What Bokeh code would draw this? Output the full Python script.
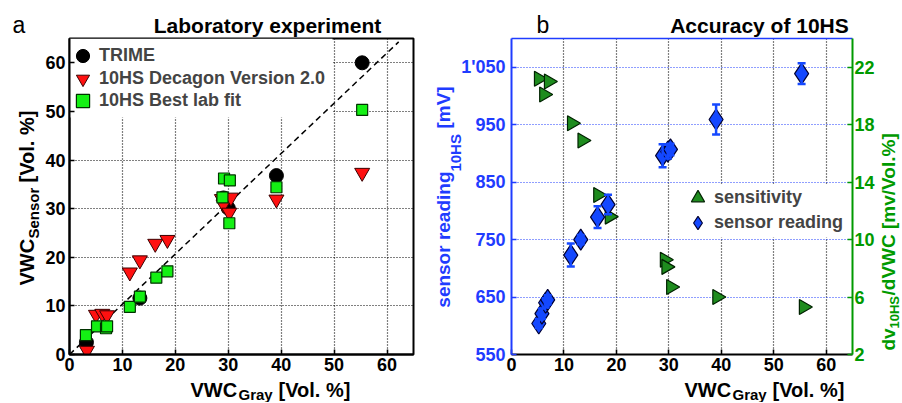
from math import pi
from bokeh.plotting import figure
from bokeh.layouts import row, column
from bokeh.models import (Range1d, LinearAxis, FixedTicker, Label, Legend, LegendItem,
                          ColumnDataSource, Whisker, TeeHead, BoxAnnotation)
from bokeh.embed import file_html
from bokeh.resources import INLINE

FONT = "Liberation Sans"

# ---------------- data: panel a (laboratory experiment) ----------------
trime_grav = [3.2, 13.3, 29.1, 30.0, 39.1, 55.3]
trime_vwc = [2.5, 11.6, 32.2, 30.1, 36.8, 60.0]

dec_grav = [3.3, 5.0, 6.2, 7.1, 11.4, 13.3, 16.2, 18.5, 28.8, 29.1, 30.2, 30.5, 39.1, 55.3]
dec_vwc = [0.8, 8.2, 8.4, 8.1, 16.9, 19.4, 22.8, 23.6, 32.0, 30.9, 29.2, 32.3, 31.9, 37.4]

fit_grav = [3.1, 5.2, 6.9, 7.1, 11.4, 13.3, 16.4, 18.5, 28.9, 29.2, 30.3, 30.2, 39.1, 55.3]
fit_vwc = [4.0, 5.8, 5.4, 5.8, 9.8, 11.9, 15.8, 17.1, 32.3, 36.2, 35.8, 27.0, 34.4, 50.3]

line_x = [0.0, 62.2]
line_y = [0.0, 64.3]

# ---------------- data: panel b (accuracy of 10HS) ----------------
read_grav = [5.2, 5.8, 6.5, 6.9, 11.3, 13.2, 16.4, 18.4, 28.8, 29.8, 30.3, 39.0, 55.3]
read_mv = [604, 621, 640, 645, 723, 750, 789, 811, 896, 903, 907, 959, 1039]
read_err = [8, 9, 8, 8, 20, 8, 19, 17, 20, 12, 10, 26, 18]

sens_grav = [5.2, 6.2, 7.1, 11.5, 13.5, 16.5, 18.7, 29.2, 29.5, 30.4, 39.2, 55.7]
sens_val = [21.2, 20.1, 21.0, 18.1, 16.9, 13.1, 11.6, 8.6, 8.1, 6.7, 6.0, 5.3]

x_ticks = [0, 10, 20, 30, 40, 50, 60]
a_y_ticks = [0, 10, 20, 30, 40, 50, 60]
b_y_ticks = [550, 650, 750, 850, 950, 1050]
b_y_labels = {550: "550", 650: "650", 750: "750", 850: "850", 950: "950", 1050: "1'050"}
b_y2_ticks = [2, 6, 10, 14, 18, 22]

BLUE = "#1f3cff"
DIAMOND = "#1448ff"
GREEN_TXT = "#009a00"
GREEN_TRI = "#1e8c1e"
H = 402


def lab(p, text, x, y, size, color="black", style="bold", angle=0, align="left"):
    p.add_layout(Label(x=x, y=y, x_units="screen", y_units="screen", text=text,
                       text_font=FONT, text_font_size=f"{size}px", text_font_style=style,
                       text_color=color, angle=angle, text_align=align,
                       text_baseline="middle"))


def label_fig(w, h):
    f = figure(width=w, height=h, x_range=Range1d(0, 1), y_range=Range1d(0, 1),
               x_axis_type=None, y_axis_type=None, output_backend="svg",
               toolbar_location=None, min_border=0)
    f.min_border_left = 0
    f.min_border_right = 0
    f.min_border_top = 0
    f.min_border_bottom = 0
    f.outline_line_color = None
    f.background_fill_color = "white"
    f.border_fill_color = "white"
    return f


def style_axis(ax, color="black", size=18):
    ax.axis_line_color = color
    ax.axis_line_width = 2
    ax.major_tick_line_color = color
    ax.major_tick_line_width = 1.5
    ax.major_tick_in = 5
    ax.major_tick_out = 0
    ax.minor_tick_line_color = None
    ax.major_label_text_font = FONT
    ax.major_label_text_font_size = f"{size}px"
    ax.major_label_text_font_style = "bold"
    ax.major_label_text_color = color


def text_axis(ticks, labels, size, color, standoff):
    ax = LinearAxis(ticker=FixedTicker(ticks=ticks),
                    major_label_overrides=dict(zip(ticks, labels)))
    ax.axis_line_color = None
    ax.major_tick_line_color = None
    ax.minor_tick_line_color = None
    ax.major_tick_in = 0
    ax.major_tick_out = 0
    ax.major_label_standoff = standoff
    ax.major_label_orientation = "parallel"
    ax.major_label_text_font = FONT
    ax.major_label_text_font_size = f"{size}px"
    ax.major_label_text_font_style = "bold"
    ax.major_label_text_color = color
    return ax


def one_legend(p, label, renderer, x, y):
    lg = Legend(items=[LegendItem(label=label, renderers=[renderer])], location=(x, y))
    lg.margin = 0
    lg.padding = 0
    lg.spacing = 0
    lg.glyph_width = 33
    lg.glyph_height = 33
    lg.label_height = 18
    lg.label_standoff = 0
    lg.label_text_font = FONT
    lg.label_text_font_size = "18px"
    lg.label_text_font_style = "bold"
    lg.border_line_color = None
    lg.background_fill_alpha = 0
    p.add_layout(lg, "center")


def legend_box(p, left, right, bottom, top):
    box = BoxAnnotation(left=left, right=right, bottom=bottom, top=top,
                        left_units="screen", right_units="screen",
                        bottom_units="screen", top_units="screen",
                        fill_color="white", fill_alpha=1, line_color=None, level="underlay")
    p.add_layout(box)


# ================= panel a =================
pa = figure(width=388, height=341, output_backend="svg", toolbar_location=None,
            x_range=Range1d(0, 65), y_range=Range1d(0, 65),
            min_border_left=25, min_border_right=17, min_border_top=1, min_border_bottom=24)
pa.outline_line_color = "black"
pa.outline_line_width = 2
pa.background_fill_color = "white"
pa.border_fill_color = "white"
pa.xaxis.ticker = FixedTicker(ticks=x_ticks)
pa.yaxis.ticker = FixedTicker(ticks=a_y_ticks)
style_axis(pa.xaxis[0])
style_axis(pa.yaxis[0])
pa.xaxis.major_label_standoff = 3
pa.yaxis.major_label_standoff = 4
for g in (pa.xgrid[0], pa.ygrid[0]):
    g.grid_line_color = "black"
    g.grid_line_dash = "1 2"
    g.grid_line_width = 1.2

legend_box(pa, 0, 263, 237, 316)
pa.line(line_x, line_y, line_color="black", line_width=1.5, line_dash="6 4")
r_trime = pa.scatter(trime_grav, trime_vwc, marker="circle", size=14,
                     fill_color="black", line_color="black")
r_dec = pa.scatter(dec_grav, dec_vwc, marker="inverted_triangle", size=15,
                   fill_color="#ff1010", line_color="#3a0000", line_width=1)
r_fit = pa.scatter(fit_grav, fit_vwc, marker="square", size=11,
                   fill_color="#14f014", line_color="#003300", line_width=1.2)

one_legend(pa, "TRIME", r_trime, -3, 282)
one_legend(pa, "10HS Decagon Version 2.0", r_dec, -3, 259)
one_legend(pa, "10HS Best lab fit", r_fit, -3, 237)

left_a = label_fig(42, H)
lab(left_a, "a", 12, 378, 23, style="normal")
lab(left_a, "VWC", 26, 117, 20, angle=pi / 2)
lab(left_a, "Sensor", 33, 164, 15, angle=pi / 2)
lab(left_a, "[Vol. %]", 26, 220, 20, angle=pi / 2)

top_a = label_fig(388, 37)
lab(top_a, "Laboratory experiment", 198, 12, 21, align="center")

bot_a = label_fig(388, 24)
lab(bot_a, "VWC", 121, 12.5, 20)
lab(bot_a, "Gray", 169, 8.5, 15)
lab(bot_a, "[Vol. %]", 209, 12.5, 20)

# ================= panel b =================
pb = figure(width=447, height=341, output_backend="svg", toolbar_location=None,
            x_range=Range1d(0, 65), y_range=Range1d(550, 1100),
            min_border_left=79, min_border_right=23, min_border_top=1, min_border_bottom=24)
pb.extra_y_ranges = {"sens": Range1d(2, 24)}
pb.outline_line_color = None
pb.background_fill_color = "white"
pb.border_fill_color = "white"
pb.xaxis.ticker = FixedTicker(ticks=x_ticks)
pb.yaxis.ticker = FixedTicker(ticks=b_y_ticks)
pb.yaxis.major_label_overrides = b_y_labels
style_axis(pb.xaxis[0])
style_axis(pb.yaxis[0], color=BLUE)
pb.xaxis.major_label_standoff = 3
pb.yaxis.major_label_standoff = 6
pb.xgrid.grid_line_color = "black"
pb.xgrid.grid_line_dash = "1 2"
pb.xgrid.grid_line_width = 1.2
pb.ygrid.grid_line_color = BLUE
pb.ygrid.grid_line_dash = "1 2"
pb.ygrid.grid_line_width = 1.2

# blue rotated axis title (pieces with subscript) stacked left of the tick labels
pb.add_layout(text_axis([901], ["10HS"], 15, BLUE, -6), "left")
pb.add_layout(text_axis([750, 980], ["sensor reading", "[mV]"], 19, BLUE, -10), "left")

ax2 = LinearAxis(y_range_name="sens", ticker=FixedTicker(ticks=b_y2_ticks))
style_axis(ax2, color=GREEN_TXT)
ax2.major_label_standoff = 2
pb.add_layout(ax2, "right")
top_ax = LinearAxis(ticker=FixedTicker(ticks=[]))
top_ax.axis_line_color = BLUE
top_ax.axis_line_width = 1.5
top_ax.major_tick_line_color = None
top_ax.minor_tick_line_color = None
top_ax.major_tick_in = 0
top_ax.major_tick_out = 0
top_ax.major_label_standoff = 0
pb.add_layout(top_ax, "above")

legend_box(pb, 171, 336, 117, 170)

src = ColumnDataSource(dict(x=read_grav, y=read_mv,
                            lo=[v - e for v, e in zip(read_mv, read_err)],
                            hi=[v + e for v, e in zip(read_mv, read_err)]))
wh = Whisker(source=src, base="x", lower="lo", upper="hi", dimension="height",
             line_color=DIAMOND, line_width=2.5,
             lower_head=TeeHead(size=8, line_color=DIAMOND, line_width=2.5),
             upper_head=TeeHead(size=8, line_color=DIAMOND, line_width=2.5))
wh.level = "glyph"
pb.add_layout(wh)

r_sens = pb.scatter(sens_grav, sens_val, y_range_name="sens", marker="triangle", angle=-pi / 2,
                    size=15, fill_color=GREEN_TRI, line_color="#002200", line_width=1.2)
r_read = pb.scatter("x", "y", source=src, marker="diamond", size=21,
                    fill_color=DIAMOND, line_color="#000033", line_width=1.2)

one_legend(pb, "sensitivity", r_sens, 170, 140)
one_legend(pb, "sensor reading", r_read, 170, 115)

top_b = label_fig(447, 37)
lab(top_b, "b", 25, 13, 23, style="normal")
lab(top_b, "Accuracy of 10HS", 248, 12, 21, align="center")

bot_b = label_fig(447, 24)
lab(bot_b, "VWC", 173, 12.5, 20)
lab(bot_b, "Gray", 221, 8.5, 15)
lab(bot_b, "[Vol. %]", 261, 12.5, 20)

right_c = label_fig(24, H)
lab(right_c, "dv", 10.6, 52, 19, color=GREEN_TXT, angle=pi / 2)
lab(right_c, "10HS", 16.7, 74, 13, color=GREEN_TXT, angle=pi / 2)
lab(right_c, "/dVWC [mv/Vol.%]", 10.6, 107, 19, color=GREEN_TXT, angle=pi / 2)

layout = row(left_a, column(top_a, pa, bot_a), column(top_b, pb, bot_b), right_c)
open("out.html", "w").write(file_html(layout, INLINE))
